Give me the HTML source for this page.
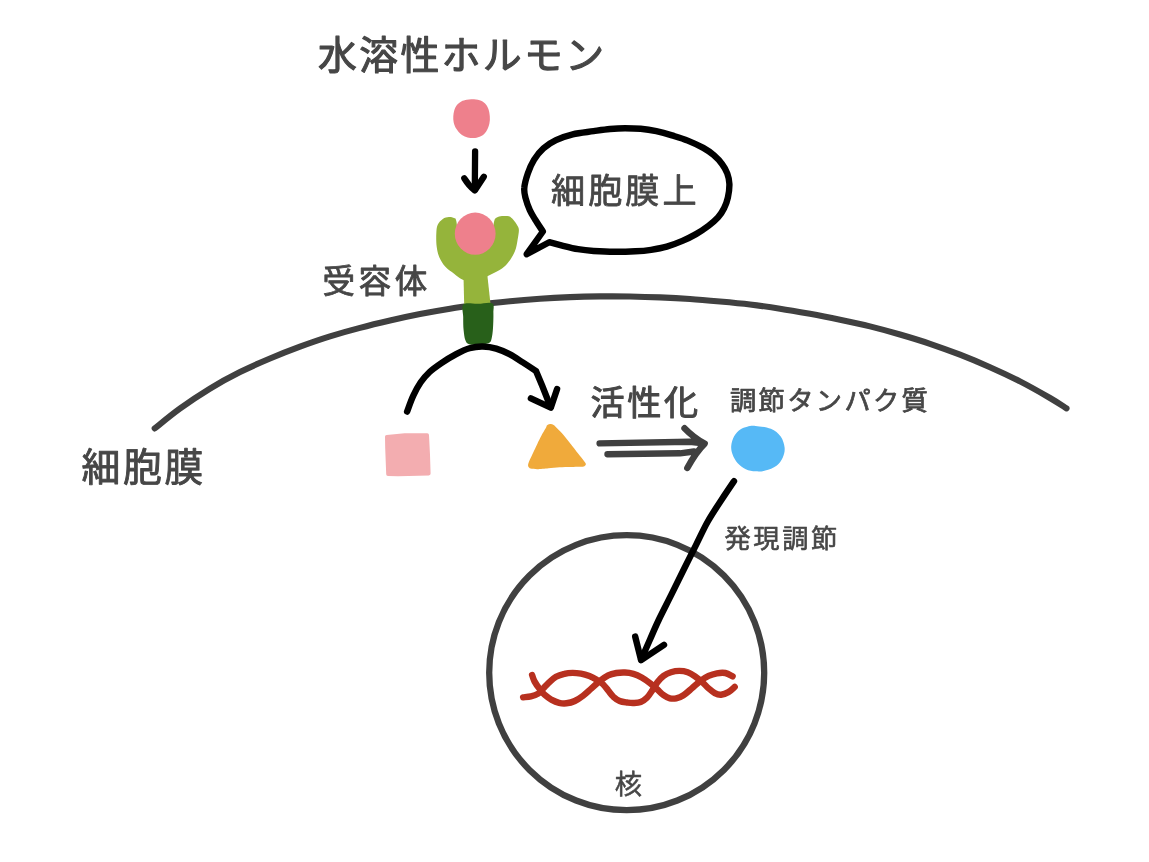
<!DOCTYPE html>
<html lang="ja">
<head>
<meta charset="utf-8">
<title>水溶性ホルモン</title>
<style>
html,body{margin:0;padding:0;background:#fff;}
body{width:1149px;height:862px;overflow:hidden;}
svg{display:block;will-change:transform;}
svg text{font-family:"Liberation Sans","Noto Sans CJK JP",sans-serif;stroke-linejoin:round;stroke-linecap:round;paint-order:stroke fill;}
</style>
</head>
<body>
<svg width="1149" height="862" viewBox="0 0 1149 862">
<rect width="1149" height="862" fill="#ffffff"/>
<path d="M154.7 428.4C158.9 425.1 170.8 415.1 180.0 408.5C189.2 401.9 200.0 394.7 210.0 388.6C220.0 382.5 230.0 377.1 240.0 372.1C250.0 367.1 260.0 362.7 270.0 358.5C280.0 354.3 290.0 350.4 300.0 346.7C310.0 343.0 320.0 339.5 330.0 336.4C340.0 333.3 350.0 330.5 360.0 327.9C370.0 325.2 380.0 322.8 390.0 320.5C400.0 318.2 410.0 316.1 420.0 314.1C430.0 312.1 440.0 310.3 450.0 308.7C460.0 307.1 470.0 305.8 480.0 304.5C490.0 303.2 500.0 302.2 510.0 301.2C520.0 300.2 530.0 299.4 540.0 298.7C550.0 298.0 560.0 297.5 570.0 297.1C580.0 296.7 590.0 296.5 600.0 296.4C610.0 296.3 620.0 296.3 630.0 296.5C640.0 296.7 650.0 297.0 660.0 297.4C670.0 297.8 680.0 298.3 690.0 299.0C700.0 299.7 710.0 300.6 720.0 301.5C730.0 302.4 740.0 303.3 750.0 304.5C760.0 305.7 770.0 307.1 780.0 308.7C790.0 310.2 800.0 312.0 810.0 313.8C820.0 315.6 830.0 317.6 840.0 319.7C850.0 321.8 860.0 323.9 870.0 326.4C880.0 328.9 890.0 331.6 900.0 334.5C910.0 337.4 920.0 340.4 930.0 343.8C940.0 347.2 950.0 350.8 960.0 354.7C970.0 358.6 980.0 362.8 990.0 367.2C1000.0 371.6 1010.0 376.3 1020.0 381.4C1030.0 386.5 1042.2 393.5 1050.0 398.0C1057.8 402.5 1063.8 406.7 1066.5 408.4" fill="none" stroke="#404040" stroke-width="6.1" stroke-linecap="round" stroke-linejoin="round"/>
<circle cx="626.7" cy="672.7" r="137.5" fill="none" stroke="#404040" stroke-width="6.3"/>
<path d="M472.3 99.3C474.4 99.4 477.5 99.5 479.6 100.2C481.7 100.9 483.6 102.0 485.1 103.5C486.6 105.0 487.6 106.9 488.4 109.0C489.2 111.1 489.6 113.9 489.8 116.3C490.0 118.7 489.9 121.3 489.4 123.6C488.9 125.9 488.0 128.4 486.9 130.3C485.8 132.2 484.4 134.0 482.7 135.2C481.0 136.4 478.4 137.2 476.6 137.7C474.8 138.2 473.4 138.1 471.7 138.0C470.0 137.9 468.0 137.7 466.2 137.0C464.4 136.3 462.3 135.3 460.7 134.0C459.1 132.7 457.7 131.0 456.5 129.1C455.3 127.2 454.2 124.5 453.7 122.4C453.2 120.3 453.2 118.3 453.3 116.3C453.4 114.3 453.7 112.1 454.3 110.2C454.9 108.3 455.9 106.3 457.1 104.8C458.3 103.3 459.7 102.2 461.3 101.4C462.9 100.6 465.0 100.2 466.8 99.8C468.6 99.4 470.2 99.2 472.3 99.3Z" fill="#ee808c"/>
<path d="M475.1 151.3C475 165 474.9 178 474.8 189.5" fill="none" stroke="#000" stroke-width="6.3" stroke-linecap="round"/>
<path d="M464.3 178.3Q469 186 474.8 190.4L483.8 176.7" fill="none" stroke="#000" stroke-width="6.3" stroke-linecap="round" stroke-linejoin="round"/>
<path d="M437.6 225.0C438.7 222.5 440.9 220.2 442.8 218.9C444.7 217.6 447.0 217.1 448.9 217.0C450.8 216.9 452.9 217.4 454.1 218.1C455.3 218.8 455.3 217.4 456.3 221.1C457.3 224.8 456.9 235.2 460.0 240.0C463.1 244.8 470.0 250.0 475.0 250.0C480.0 250.0 486.8 244.8 490.0 240.0C493.2 235.2 493.0 225.2 494.1 221.5C495.2 217.8 495.5 218.5 496.8 217.6C498.1 216.7 500.0 216.3 502.0 216.1C504.0 215.9 507.0 215.7 508.9 216.3C510.8 216.9 511.8 218.2 513.3 219.8C514.8 221.4 516.7 224.2 517.6 225.9C518.5 227.6 518.9 227.9 518.9 230.2C518.9 232.5 518.2 236.3 517.6 239.8C517.0 243.3 516.5 247.5 515.0 251.1C513.5 254.7 511.1 258.7 508.9 261.6C506.7 264.5 505.3 266.2 502.0 268.5C498.7 270.8 493.4 273.3 488.9 275.5C484.4 277.7 479.4 280.8 475.0 281.5C470.6 282.2 466.3 281.1 462.8 279.8C459.3 278.5 457.0 276.0 454.1 273.8C451.2 271.6 447.9 269.6 445.4 266.8C442.9 264.0 440.8 260.5 439.3 257.2C437.9 253.9 437.2 250.7 436.7 246.8C436.2 242.9 436.1 237.3 436.3 233.7C436.5 230.1 436.5 227.5 437.6 225.0Z" fill="#95b43b"/>
<path d="M463.4 272L464.2 305L490.6 305L487 272Z" fill="#95b43b"/>
<path d="M463.6 304.3C466.1 302.1 473.2 304.0 478.0 303.8C482.8 303.6 489.6 301.7 492.2 303.2C494.8 304.7 493.3 308.9 493.4 313.0C493.5 317.1 493.3 323.7 493.0 328.0C492.7 332.3 492.2 336.4 491.5 339.0C490.8 341.6 490.6 342.4 488.5 343.3C486.4 344.2 482.2 344.5 479.0 344.6C475.8 344.8 471.3 345.0 469.0 344.2C466.7 343.4 466.2 342.4 465.3 340.0C464.4 337.6 464.0 333.8 463.6 330.0C463.2 326.2 463.2 321.3 463.2 317.0C463.2 312.7 461.1 306.5 463.6 304.3Z" fill="#28601a"/>
<ellipse cx="475.2" cy="233.7" rx="20.4" ry="21.1" fill="#ee808c"/>
<path d="M526.7 254.2L542.9 231.5C541.6 229.5 537.3 223.1 535.1 219.5C532.9 215.9 531.4 213.6 529.8 210.1C528.2 206.6 526.6 202.3 525.7 198.6C524.8 194.9 523.9 192.3 524.3 188.1C524.6 183.9 526.2 178.2 527.8 173.5C529.4 168.8 531.4 164.1 534.0 159.9C536.6 155.7 539.7 151.7 543.4 148.4C547.1 145.1 551.1 142.4 556.0 140.1C560.9 137.8 566.4 135.8 572.7 134.3C579.0 132.8 587.4 132.1 593.6 131.2C599.8 130.3 604.8 129.5 610.0 129.0C615.2 128.5 619.9 128.2 625.0 128.2C630.1 128.2 635.5 128.3 640.7 128.8C645.9 129.3 651.1 130.1 656.3 131.2C661.5 132.3 666.8 133.8 672.0 135.4C677.2 137.0 682.5 138.5 687.7 140.6C692.9 142.7 698.9 145.5 703.3 147.9C707.6 150.3 710.7 152.5 713.8 155.2C716.9 157.9 719.9 161.0 722.1 164.1C724.4 167.2 726.1 170.2 727.3 173.5C728.5 176.8 729.3 180.0 729.4 184.0C729.5 188.0 728.8 193.5 727.9 197.5C727.0 201.5 725.9 204.7 724.2 208.0C722.6 211.3 720.6 214.5 718.0 217.4C715.4 220.3 712.3 222.9 708.6 225.7C704.9 228.5 700.4 231.6 696.0 234.1C691.6 236.6 687.3 238.8 682.4 240.9C677.5 243.0 672.0 245.1 666.8 246.6C661.6 248.1 656.3 249.0 651.1 249.8C645.9 250.6 641.5 251.0 635.4 251.3C629.3 251.6 621.4 251.9 614.4 251.8C607.4 251.8 599.7 251.4 593.6 251.0C587.5 250.6 583.1 250.1 577.9 249.2C572.7 248.3 567.0 246.8 562.2 245.6C557.4 244.4 551.4 242.8 549.2 242.2Z" fill="#fff" stroke="#000" stroke-width="6.4" stroke-linejoin="round" stroke-linecap="round"/>
<path d="M407.1 411.6C408.1 409.0 411.0 400.6 413.3 395.7C415.6 390.8 418.0 386.2 420.7 382.3C423.4 378.4 426.2 375.2 429.6 372.0C433.1 368.8 437.0 366.1 441.4 363.1C445.8 360.1 451.5 356.7 456.2 354.2C460.9 351.7 465.1 349.6 469.5 348.3C473.9 347.0 478.4 346.4 482.8 346.5C487.2 346.6 491.8 347.3 496.2 348.6C500.6 349.9 505.1 351.9 509.5 354.2C513.9 356.5 518.4 359.6 522.8 362.4C527.2 365.2 533.9 369.7 536.1 371.2L542 385.3L550.6 407" fill="none" stroke="#000" stroke-width="6.4" stroke-linecap="round" stroke-linejoin="round"/>
<path d="M530.9 398.3L550.8 407.6L557.1 389" fill="none" stroke="#000" stroke-width="6.4" stroke-linecap="round" stroke-linejoin="round"/>
<path d="M386.8 436.8L404.8 435L427.2 435.1L428.2 454.8L428.8 473.6L398 474.5L388 474.2L387 448Z" fill="#f3adb0" stroke="#f3adb0" stroke-width="3.6" stroke-linejoin="round"/>
<path d="M546.9 425.4C547.4 425.0 549.0 424.2 549.9 424.1C550.8 424.0 552.6 424.4 553.6 425.0C554.6 425.6 556.0 427.1 557.3 428.4C558.6 429.7 561.5 432.6 563.3 434.7C565.1 436.8 568.7 441.5 570.7 444.0C572.7 446.5 576.3 451.3 578.1 453.6C579.9 455.9 583.0 459.6 584.0 461.0C585.0 462.4 585.8 463.3 585.9 464.0C586.0 464.7 585.1 465.8 584.4 466.2C583.7 466.6 582.1 466.7 580.3 466.8C578.5 466.9 573.5 466.9 570.7 467.0C567.9 467.1 562.5 467.1 559.5 467.3C556.5 467.5 551.4 468.0 548.4 468.3C545.4 468.6 539.7 469.2 537.3 469.2C534.9 469.2 531.8 469.0 530.6 468.6C529.4 468.2 528.5 467.0 528.2 466.2C527.9 465.4 528.2 464.0 528.7 462.5C529.2 461.0 531.0 457.6 532.1 455.1C533.2 452.6 535.9 446.9 537.3 444.0C538.7 441.1 541.3 435.8 542.5 433.6C543.7 431.4 545.6 428.3 546.2 427.2C546.8 426.1 546.4 425.8 546.9 425.4Z" fill="#f0aa3b"/>
<path d="M599.6 443.4L690 441.7L703 443.2M607.5 454.2L680 453.3L694 451.5M684.5 428.2Q694 438 704.7 443.6Q696 452 687.3 468" fill="none" stroke="#404040" stroke-width="6.4" stroke-linecap="round" stroke-linejoin="round"/>
<path d="M755.6 426.0C759.5 426.4 766.7 427.1 770.9 428.8C775.1 430.6 778.4 433.4 780.7 436.5C783.0 439.6 784.2 444.1 784.6 447.6C785.0 451.1 784.1 454.4 782.8 457.4C781.4 460.4 779.4 463.5 776.5 465.7C773.6 467.9 768.8 469.7 765.3 470.6C761.8 471.5 758.9 471.5 755.6 471.3C752.4 471.1 748.8 470.6 745.8 469.2C742.8 467.8 739.7 465.3 737.5 462.9C735.3 460.5 733.6 457.4 732.6 454.6C731.6 451.8 731.0 449.2 731.2 446.2C731.4 443.2 732.5 439.3 734.0 436.5C735.5 433.7 738.1 431.1 740.3 429.5C742.5 427.9 744.7 427.3 747.2 426.7C749.8 426.1 751.7 425.6 755.6 426.0Z" fill="#56b9f6"/>
<path d="M734.0 481.2C731.9 484.3 725.8 493.3 721.4 500.0C717.0 506.7 712.0 514.1 707.8 521.5C703.6 528.9 700.2 536.7 696.2 544.6C692.2 552.5 688.1 560.7 684.0 569.0C679.9 577.3 675.8 585.7 671.6 594.2C667.4 602.7 662.3 612.5 658.7 620.0C655.1 627.5 652.9 632.9 650.0 639.5C647.1 646.1 642.7 656.2 641.2 659.5" fill="none" stroke="#000" stroke-width="6.4" stroke-linecap="round" stroke-linejoin="round"/>
<path d="M635.2 636.6L641.1 660.2L664 644.8" fill="none" stroke="#000" stroke-width="6.4" stroke-linecap="round" stroke-linejoin="round"/>
<path d="M532.1 675.0C532.5 676.1 533.3 679.2 534.5 681.4C535.7 683.6 537.5 686.2 539.2 688.4C540.9 690.6 542.4 692.8 544.5 694.7C546.6 696.6 549.4 698.5 551.8 699.9C554.2 701.2 556.7 702.2 559.1 702.8C561.5 703.4 563.8 703.6 566.4 703.3C569.0 703.0 572.0 702.3 574.8 701.0C577.6 699.7 580.3 697.8 583.1 695.7C585.9 693.6 588.7 690.8 591.5 688.4C594.3 686.0 597.0 683.3 599.8 681.1C602.6 678.9 605.4 676.8 608.2 675.4C611.0 674.0 613.7 673.5 616.5 673.0C619.3 672.5 622.2 672.4 625.0 672.5C627.8 672.6 630.6 673.0 633.4 673.8C636.2 674.6 638.9 675.9 641.7 677.5C644.5 679.1 647.5 681.2 650.1 683.2C652.7 685.2 655.1 687.5 657.4 689.5C659.6 691.5 661.5 693.7 663.6 695.2C665.7 696.7 667.8 697.8 669.9 698.3C672.0 698.8 673.9 698.8 676.2 698.3C678.5 697.8 680.9 696.9 683.5 695.2C686.1 693.6 689.0 690.8 691.8 688.4C694.6 686.0 697.4 683.2 700.2 681.1C703.0 679.0 705.8 677.2 708.6 675.9C711.4 674.6 714.1 673.8 716.9 673.3C719.7 672.8 722.7 672.5 725.3 673.0C727.9 673.5 731.4 675.8 732.6 676.4" fill="none" stroke="#b7301f" stroke-width="6.4" stroke-linecap="round" stroke-linejoin="round"/>
<path d="M523.1 697.3C524.4 697.1 528.4 696.9 530.9 696.3C533.4 695.7 536.1 694.9 538.2 693.6C540.3 692.3 541.7 690.2 543.4 688.4C545.1 686.6 546.5 684.7 548.6 682.8C550.7 680.9 553.4 678.3 556.0 676.8C558.6 675.3 561.5 674.4 564.3 673.8C567.1 673.1 569.9 672.9 572.7 672.9C575.5 672.9 578.2 673.2 581.0 673.7C583.8 674.2 586.8 675.1 589.4 676.1C592.0 677.1 594.4 678.4 596.7 679.8C599.0 681.1 601.1 682.4 603.0 684.2C604.9 686.0 606.5 688.4 608.2 690.5C609.9 692.6 611.5 695.0 613.4 696.8C615.3 698.5 617.4 700.0 619.7 701.0C622.0 702.0 624.7 702.2 627.0 702.5C629.3 702.8 631.1 703.1 633.4 703.0C635.7 702.9 638.5 702.9 640.7 702.0C643.0 701.1 645.0 699.7 646.9 697.8C648.8 695.9 650.5 693.1 652.2 690.5C654.0 687.9 655.5 684.6 657.4 682.2C659.3 679.8 661.3 677.6 663.6 675.9C665.9 674.2 668.4 673.0 671.0 672.2C673.6 671.4 676.5 670.9 679.3 670.9C682.1 670.9 685.1 671.3 687.7 672.2C690.3 673.1 692.6 674.7 695.0 676.4C697.4 678.1 700.0 680.2 702.3 682.2C704.6 684.2 706.5 686.6 708.6 688.4C710.7 690.2 712.7 692.0 714.8 693.1C716.9 694.2 718.8 694.9 721.1 694.7C723.4 694.5 726.1 693.4 728.4 692.1C730.7 690.8 733.7 687.8 734.7 686.9" fill="none" stroke="#b7301f" stroke-width="6.4" stroke-linecap="round" stroke-linejoin="round"/>
<text id="t1" x="318.0" y="68.9" font-size="38.86" letter-spacing="2.33" font-weight="400" fill="#464646" stroke="#464646" stroke-width="1.1">水溶性ホルモン</text>
<text id="t2" x="551.0" y="203.05" font-size="34.14" letter-spacing="3.0" font-weight="400" fill="#464646" stroke="#464646" stroke-width="0.8">細胞膜上</text>
<text id="t3" x="322.5" y="293.45" font-size="32.55" letter-spacing="3.55" font-weight="400" fill="#464646" stroke="#464646" stroke-width="0.8">受容体</text>
<text id="t4" x="81.5" y="480.85" font-size="38.87" letter-spacing="2.6" font-weight="400" fill="#464646" stroke="#464646" stroke-width="0.9">細胞膜</text>
<text id="t5" x="590.5" y="414.55" font-size="34.14" letter-spacing="2.6" font-weight="400" fill="#464646" stroke="#464646" stroke-width="1.0">活性化</text>
<text id="t6" x="730.0" y="409.95" font-size="26.25" letter-spacing="2.35" font-weight="400" fill="#464646" stroke="#464646" stroke-width="0.75">調節タンパク質</text>
<text id="t7" x="724.5" y="547.95" font-size="26.25" letter-spacing="2.57" font-weight="400" fill="#464646" stroke="#464646" stroke-width="0.6">発現調節</text>
<text id="t8" x="614.7" y="794.35" font-size="27.31" letter-spacing="0" font-weight="400" fill="#464646" stroke="#464646" stroke-width="0.5">核</text>
</svg>
</body>
</html>
